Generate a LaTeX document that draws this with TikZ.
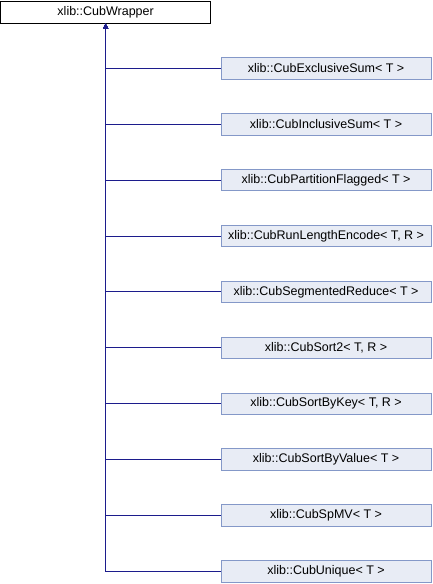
\documentclass[tikz,border=0pt]{standalone}
\usepackage{fontspec}
\setmainfont{Liberation Sans}
\usepackage{xcolor}
\usepackage{tikz}
\usetikzlibrary{matrix}
\usetikzlibrary{arrows.meta}

\definecolor{edgeblue}{HTML}{1C1C8C}
\definecolor{childfill}{HTML}{E8ECF5}
\definecolor{childline}{HTML}{8498C8}

\tikzset{
  rootbox/.style  = {draw = black , fill = white , line width = 0.9pt},
  childbox/.style = {draw = childline , fill = childfill , line width = 0.9pt},
  edge/.style     = {draw = edgeblue , line width = 0.9pt}
}

\begin{document}
\begin{tikzpicture}[x = 1pt , y = 1pt , >={Triangle[width=5pt,length=5pt]}]
            \useasboundingbox (0,0) rectangle (432,-584);
            \matrix (tree) [%
              matrix of nodes,
              anchor = north west,
              inner sep = 0pt,
              nodes = {minimum width = 210pt, minimum height = 21.5pt, inner sep = 0pt,
                       font = \fontsize{12.5}{14}\selectfont},
              column sep = 9.5pt,
              row sep = 33.5pt,
              ampersand replacement=\&
            ] at (0,-1)
                  {
              |[rootbox]| xlib::CubWrapper \&                                                 \\
                                           \& |[childbox]| xlib::CubExclusiveSum< T >        \\
                                           \& |[childbox]| xlib::CubInclusiveSum< T >        \\
                                           \& |[childbox]| xlib::CubPartitionFlagged< T >    \\
                                           \& |[childbox]| xlib::CubRunLengthEncode< T, R >  \\
                                           \& |[childbox]| xlib::CubSegmentedReduce< T >     \\
                                           \& |[childbox]| xlib::CubSort2< T, R >            \\
                                           \& |[childbox]| xlib::CubSortByKey< T, R >        \\
                                           \& |[childbox]| xlib::CubSortByValue< T >         \\
                                           \& |[childbox]| xlib::CubSpMV< T >                \\
                                           \& |[childbox]| xlib::CubUnique< T >              \\
            };
            \draw[edge, <-] (tree-1-1) |- (tree-2-2) ;
            \draw[edge, <-] (tree-1-1) |- (tree-3-2) ;
            \draw[edge, <-] (tree-1-1) |- (tree-4-2) ;
            \draw[edge, <-] (tree-1-1) |- (tree-5-2) ;
            \draw[edge, <-] (tree-1-1) |- (tree-6-2) ;
            \draw[edge, <-] (tree-1-1) |- (tree-7-2) ;
            \draw[edge, <-] (tree-1-1) |- (tree-8-2) ;
            \draw[edge, <-] (tree-1-1) |- (tree-9-2) ;
            \draw[edge, <-] (tree-1-1) |- (tree-10-2) ;
            \draw[edge, <-] (tree-1-1) |- (tree-11-2) ;
        \end{tikzpicture}
\end{document}
